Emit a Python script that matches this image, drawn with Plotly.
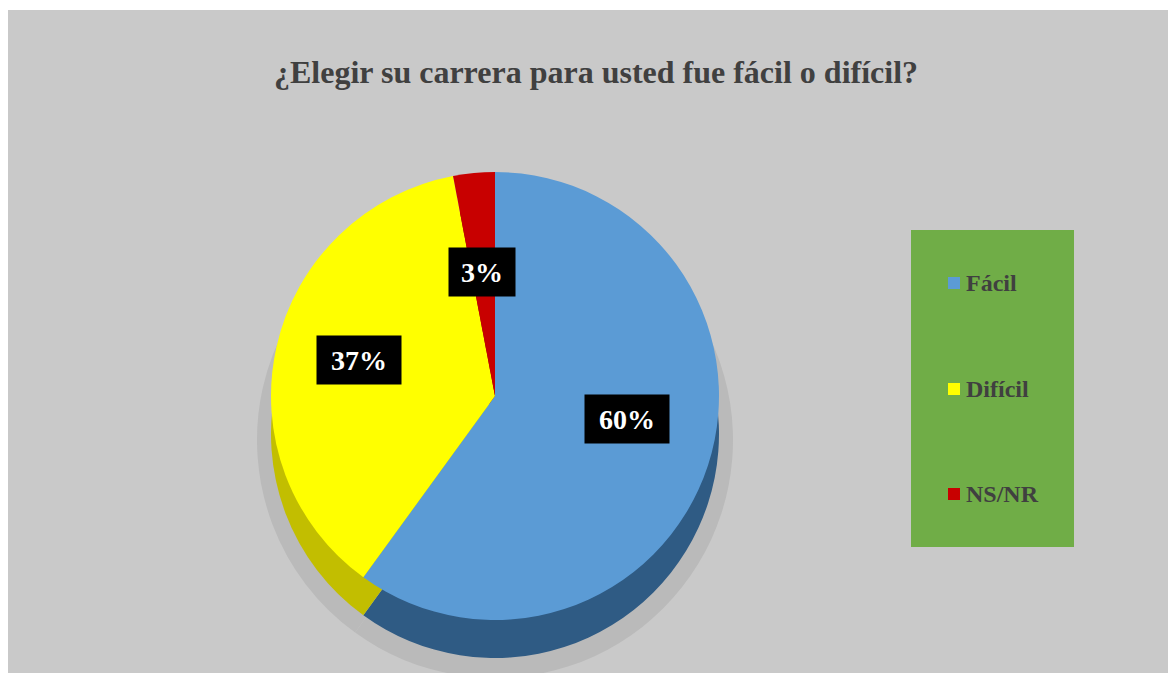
import math
import plotly.graph_objects as go

# ---- data ----
categories = ["Fácil", "Difícil", "NS/NR"]
values = [60, 37, 3]
label_texts = ["60%", "37%", "3%"]
colors = ["#5B9BD5", "#FFFF00", "#C80000"]
side_colors = ["#2F5B84", "#C2BE00", "#8A0000"]
title_text = "¿Elegir su carrera para usted fue fácil o difícil?"

W, H = 1176, 673
FONT = "Liberation Serif, Times New Roman, serif"
OFF = 8  # page body margin

# pie geometry (screen pixels)
cx, cy, r = 495, 396, 224
depth = 38


def px_x(x):
    return (x - OFF) / W


def px_y(y):
    return 1 - (y - OFF) / H


fig = go.Figure()

# soft shadow under the pie
fig.add_trace(go.Pie(
    labels=categories, values=values, sort=False, direction="clockwise",
    marker=dict(colors=["#BABABA"] * 3, line=dict(width=0)),
    textinfo="none", hoverinfo="skip", showlegend=False,
    domain=dict(x=[px_x(cx - r - 14), px_x(cx + r + 14)],
                y=[px_y(cy + depth + r + 20), px_y(cy + depth - r - 8)]),
))
# side (depth) of the 3D pie
fig.add_trace(go.Pie(
    labels=categories, values=values, sort=False, direction="clockwise", rotation=0,
    marker=dict(colors=side_colors, line=dict(width=0)),
    textinfo="none", hoverinfo="skip", showlegend=False,
    domain=dict(x=[px_x(cx - r), px_x(cx + r)], y=[px_y(cy + depth + r), px_y(cy + depth - r)]),
))
# top face
fig.add_trace(go.Pie(
    labels=categories, values=values, sort=False, direction="clockwise", rotation=0,
    marker=dict(colors=colors, line=dict(width=0)),
    textinfo="none", showlegend=False,
    domain=dict(x=[px_x(cx - r), px_x(cx + r)], y=[px_y(cy + r), px_y(cy - r)]),
))

annotations = []
# data labels placed from the slice mid-angles
total = sum(values)
cum = 0
for v, t in zip(values, label_texts):
    mid = (cum + v / 2) / total * 2 * math.pi
    cum += v
    lx = cx + 0.62 * r * math.sin(mid)
    ly = cy - 0.5 * r * math.cos(mid) - 12
    annotations.append(dict(
        x=px_x(lx), y=px_y(ly), xref="paper", yref="paper", showarrow=False,
        text=f"<b>{t}</b>", font=dict(family=FONT, size=28, color="white"),
        bgcolor="black", width=82 if len(t) == 3 else 64, height=46,
        xanchor="center", yanchor="middle",
    ))

# title
annotations.append(dict(
    x=px_x(596), y=px_y(72), xref="paper", yref="paper", showarrow=False,
    text=f"<b>{title_text}</b>", font=dict(family=FONT, size=32, color="#404040"),
    xanchor="center", yanchor="middle",
))

shapes = [
    # thin white strip at the top
    dict(type="rect", xref="paper", yref="paper", x0=0, x1=1, y0=px_y(10), y1=1,
         fillcolor="white", line=dict(width=0), layer="below"),
    # legend box
    dict(type="rect", xref="paper", yref="paper", x0=px_x(911), x1=px_x(1074),
         y0=px_y(547), y1=px_y(230), fillcolor="#70AD47", line=dict(width=0)),
]

legend_y = [283, 389, 494]
for cat, col, ly in zip(categories, colors, legend_y):
    shapes.append(dict(type="rect", xref="paper", yref="paper",
                       x0=px_x(948), x1=px_x(960), y0=px_y(ly + 6), y1=px_y(ly - 6),
                       fillcolor=col, line=dict(width=0)))
    annotations.append(dict(
        x=px_x(964), y=px_y(ly), xref="paper", yref="paper", showarrow=False,
        text=f"<b>{cat}</b>", font=dict(family=FONT, size=24, color="#404040"),
        xanchor="left", yanchor="middle",
    ))

fig.update_layout(
    width=W, height=H,
    margin=dict(l=0, r=0, t=0, b=0),
    paper_bgcolor="#C9C9C9", plot_bgcolor="#C9C9C9",
    showlegend=False,
    shapes=shapes, annotations=annotations,
)

fig.write_html("out.html")
